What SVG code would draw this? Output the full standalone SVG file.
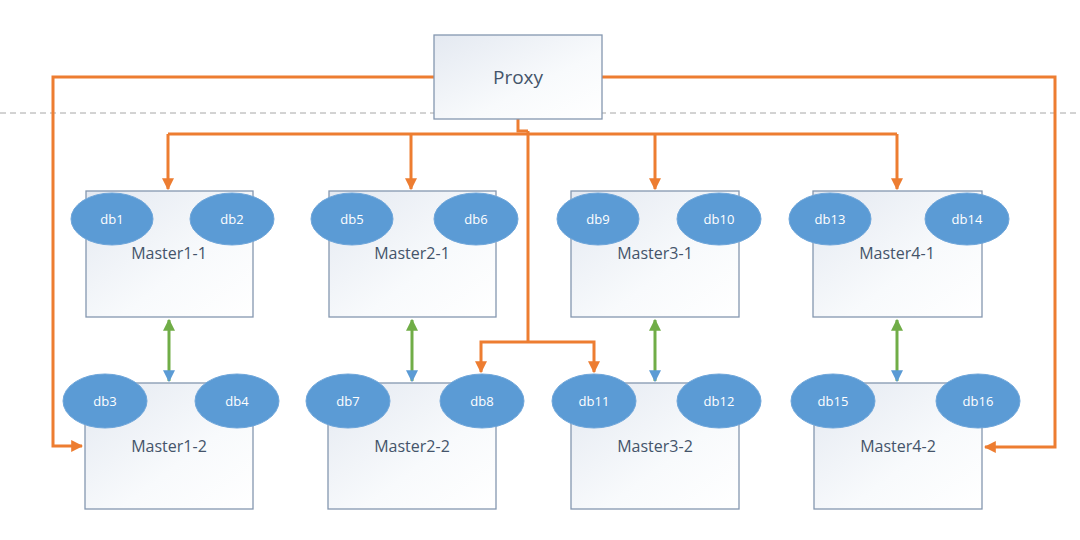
<svg xmlns="http://www.w3.org/2000/svg" width="1080" height="540" viewBox="0 0 1080 540">
<defs>
<linearGradient id="boxg" x1="0" y1="0" x2="1" y2="1">
<stop offset="0" stop-color="#E4E9F1"/>
<stop offset="0.6" stop-color="#F8FAFC"/>
<stop offset="1" stop-color="#FFFFFF"/>
</linearGradient>
<marker id="oa" viewBox="0 0 10 10" refX="9" refY="5" markerWidth="4" markerHeight="4" orient="auto-start-reverse" markerUnits="strokeWidth">
<path d="M0,0 L10,5 L0,10 z" fill="#ED7D31"/>
</marker>
<marker id="ga" viewBox="0 0 10 10" refX="9" refY="5" markerWidth="4" markerHeight="4" orient="auto-start-reverse" markerUnits="strokeWidth">
<path d="M0,0 L10,5 L0,10 z" fill="#70AD47"/>
</marker>
<marker id="gb" viewBox="0 0 10 10" refX="9" refY="5" markerWidth="4" markerHeight="4" orient="auto-start-reverse" markerUnits="strokeWidth">
<path d="M0,0 L10,5 L0,10 z" fill="#5B9BD5"/>
</marker>
</defs>
<style>
.box{fill:url(#boxg);stroke:#8497B0;stroke-width:1.3}
.db{fill:#5B9BD5;stroke:#6FA6DA;stroke-width:1}
.dbt{font-family:"Open Sans","Liberation Sans",sans-serif;font-size:13px;fill:#FFFFFF;text-anchor:middle;dominant-baseline:central}
.mt{font-family:"Open Sans","Liberation Sans",sans-serif;font-size:16px;fill:#44546A;text-anchor:middle;dominant-baseline:central}
.or{fill:none;stroke:#ED7D31;stroke-width:3}
.gr{fill:none;stroke:#70AD47;stroke-width:3}
</style>
<rect width="1080" height="540" fill="#FFFFFF"/>
<line x1="0" y1="113" x2="1080" y2="113" stroke="#A6A6A6" stroke-width="1" stroke-dasharray="6,4"/>

<g id="connectors">
<polyline class="or" points="434,77 53,77 53,446 82,446" marker-end="url(#oa)"/>
<polyline class="or" points="602,77 1055,77 1055,447 985,447" marker-end="url(#oa)"/>
<polyline class="or" points="518,119 518,131 528,131"/>
<line class="or" x1="168" y1="134" x2="897" y2="134"/>
<line class="or" x1="168" y1="134" x2="168" y2="189" marker-end="url(#oa)"/>
<line class="or" x1="411" y1="134" x2="411" y2="189" marker-end="url(#oa)"/>
<line class="or" x1="655" y1="134" x2="655" y2="189" marker-end="url(#oa)"/>
<line class="or" x1="897" y1="134" x2="897" y2="189" marker-end="url(#oa)"/>
<polyline class="or" points="528,131 528,342"/>
<polyline class="or" points="481,372 481,342 594,342 594,372" marker-start="url(#oa)" marker-end="url(#oa)"/>
<line class="gr" x1="169" y1="320" x2="169" y2="381" marker-start="url(#ga)" marker-end="url(#gb)"/>
<line class="gr" x1="412" y1="320" x2="412" y2="381" marker-start="url(#ga)" marker-end="url(#gb)"/>
<line class="gr" x1="655" y1="320" x2="655" y2="381" marker-start="url(#ga)" marker-end="url(#gb)"/>
<line class="gr" x1="897" y1="320" x2="897" y2="381" marker-start="url(#ga)" marker-end="url(#gb)"/>
</g>

<g id="proxy">
<rect class="box" x="434" y="35" width="168" height="84"/>
<text x="518" y="77" font-family="'Open Sans','Liberation Sans',sans-serif" font-size="19" fill="#44546A" text-anchor="middle" dominant-baseline="central">Proxy</text>
</g>

<g id="master1-1">
<rect class="box" x="86" y="191" width="167" height="126"/>
<text class="mt" x="169" y="253">Master1-1</text>
<ellipse class="db" cx="112" cy="219" rx="41" ry="26"/><text class="dbt" x="112" y="219">db1</text>
<ellipse class="db" cx="232" cy="219" rx="42" ry="26"/><text class="dbt" x="232" y="219">db2</text>
</g>
<g id="master2-1">
<rect class="box" x="329" y="191" width="167" height="126"/>
<text class="mt" x="412" y="253">Master2-1</text>
<ellipse class="db" cx="352" cy="219" rx="41" ry="26"/><text class="dbt" x="352" y="219">db5</text>
<ellipse class="db" cx="476" cy="219" rx="42" ry="26"/><text class="dbt" x="476" y="219">db6</text>
</g>
<g id="master3-1">
<rect class="box" x="571" y="191" width="168" height="126"/>
<text class="mt" x="655" y="253">Master3-1</text>
<ellipse class="db" cx="598" cy="219" rx="41" ry="26"/><text class="dbt" x="598" y="219">db9</text>
<ellipse class="db" cx="719" cy="219" rx="42" ry="26"/><text class="dbt" x="719" y="219">db10</text>
</g>
<g id="master4-1">
<rect class="box" x="813" y="191" width="169" height="126"/>
<text class="mt" x="897" y="253">Master4-1</text>
<ellipse class="db" cx="830" cy="219" rx="41" ry="26"/><text class="dbt" x="830" y="219">db13</text>
<ellipse class="db" cx="967" cy="219" rx="42" ry="26"/><text class="dbt" x="967" y="219">db14</text>
</g>

<g id="master1-2">
<rect class="box" x="85" y="383" width="168" height="126"/>
<text class="mt" x="169" y="446">Master1-2</text>
<ellipse class="db" cx="105" cy="401" rx="42" ry="27"/><text class="dbt" x="105" y="401">db3</text>
<ellipse class="db" cx="237" cy="401" rx="42" ry="27"/><text class="dbt" x="237" y="401">db4</text>
</g>
<g id="master2-2">
<rect class="box" x="328" y="383" width="168" height="126"/>
<text class="mt" x="412" y="446">Master2-2</text>
<ellipse class="db" cx="348" cy="401" rx="42" ry="27"/><text class="dbt" x="348" y="401">db7</text>
<ellipse class="db" cx="482" cy="401" rx="42" ry="27"/><text class="dbt" x="482" y="401">db8</text>
</g>
<g id="master3-2">
<rect class="box" x="571" y="383" width="168" height="126"/>
<text class="mt" x="655" y="446">Master3-2</text>
<ellipse class="db" cx="594" cy="401" rx="42" ry="27"/><text class="dbt" x="594" y="401">db11</text>
<ellipse class="db" cx="719" cy="401" rx="42" ry="27"/><text class="dbt" x="719" y="401">db12</text>
</g>
<g id="master4-2">
<rect class="box" x="814" y="383" width="168" height="126"/>
<text class="mt" x="898" y="446">Master4-2</text>
<ellipse class="db" cx="833" cy="401" rx="42" ry="27"/><text class="dbt" x="833" y="401">db15</text>
<ellipse class="db" cx="978" cy="401" rx="42" ry="27"/><text class="dbt" x="978" y="401">db16</text>
</g>
</svg>
